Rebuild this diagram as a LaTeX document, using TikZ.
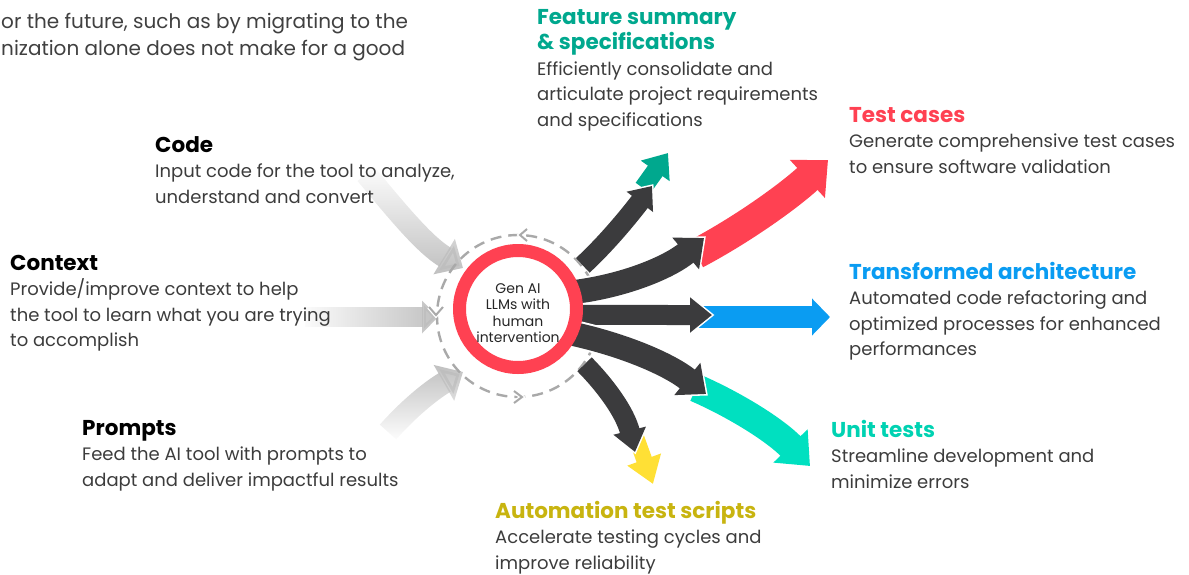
\documentclass[tikz,border=0pt]{standalone}
\usepackage{fontspec}
\setmainfont{Poppins}
\usetikzlibrary{arrows.meta,positioning,calc,fadings}
\definecolor{bodygrey}{HTML}{3C3C3C}
\definecolor{flowgrey}{HTML}{3B3B3D}
\definecolor{ingrey}{HTML}{BDBDBD}
\definecolor{dashgrey}{HTML}{A9A9A9}
\definecolor{ringred}{HTML}{FF4152}
\definecolor{featteal}{HTML}{00A88E}
\definecolor{archblue}{HTML}{0A9CF2}
\definecolor{unitcyan}{HTML}{00E0C0}
\definecolor{unittext}{HTML}{00D2B2}
\definecolor{autoyellow}{HTML}{FFE035}
\definecolor{autotext}{HTML}{C8B410}
\newcommand{\headfont}{\fontsize{21.5}{25.5}\selectfont\bfseries}
\pgfdeclarelayer{back}
\pgfsetlayers{back,main}
\tikzset{
  block/.style={anchor=north west, align=left, inner sep=0pt, text=bodygrey,
    font=\fontsize{18}{25.5}\selectfont},
  inflow/.style args={#1/#2/#3}{draw=ingrey, line width=#1pt,
    -{Triangle[width=#2pt, length=#3pt]}},
  darkflow/.style args={#1/#2/#3}{draw=flowgrey, line width=#1pt,
    -{Triangle[width=#2pt, length=#3pt]},
    preaction={draw=white, line width=#1pt+4pt, shorten >=-2.5pt,
      -{Triangle[width=#2pt+6pt, length=#3pt+4pt]}}},
  colflow/.style args={#1/#2/#3/#4}{draw=#1, line width=#2pt,
    -{Triangle[width=#3pt, length=#4pt]}},
  chevron/.style={draw=dashgrey, line width=2pt,
    preaction={draw=white, line width=4.5pt}},
}
\begin{document}
\begin{tikzpicture}[x=1pt, y=-1pt]
\useasboundingbox (0,0) rectangle (1189,574);

\node[circle, draw=ringred, line width=13pt, fill=white, minimum size=117pt] (core) at (518,309) {};
\node[align=center, font=\fontsize{14}{16.5}\selectfont, text=black!85, inner sep=0pt] (corelabel) at (518,313)
  {Gen AI\\LLMs with\\human\\intervention};

\begin{pgfonlayer}{back}
\draw[inflow=22/40/22, path fading=north] (366,174) .. controls (400,215) and (425,245) .. (463,268);
\draw[inflow=20/32/16, path fading=west] (305,317) -- (438,317);
\draw[inflow=22/40/22, path fading=south] (388,432) .. controls (412,405) and (435,388) .. (463,372);

\node[circle, draw=dashgrey, line width=2.4pt, dash pattern=on 11pt off 7pt,
  minimum size=162pt] (loop) at (518,316) {};
\draw[chevron] (527,229) -- (520,235) -- (527,241);
\draw[chevron] (429,307) -- (436,315) -- (443,307);
\draw[chevron] (514,391) -- (522,397) -- (514,403);

\coordinate (featTip) at (652,186);
\coordinate (testTip) at (704,238);
\coordinate (archTip) at (712,315);
\coordinate (unitTip) at (706,394);
\coordinate (autoTip) at (635,452);
\coordinate (featEnd) at (668,153);
\coordinate (testEnd) at (828,160);
\coordinate (archEnd) at (830,317);
\coordinate (unitEnd) at (810,466);
\coordinate (autoEnd) at (653,484);

\draw[colflow=featteal/18/34/22] (643,188) -- (featEnd);
\draw[colflow=ringred/30/50/28] (696,254) .. controls (745,228) and (790,195) .. (testEnd);
\draw[colflow=archblue/22/36/18] (699,317) -- (archEnd);
\draw[colflow=unitcyan/28/46/28] (696,388) .. controls (735,405) and (775,430) .. (unitEnd);
\draw[colflow=autoyellow/16/34/26] (636,437) -- (autoEnd);

\draw[darkflow=20/32/20] (loop.38) .. controls (610,240) and (632,212) .. (featTip);
\draw[darkflow=24/40/24] ($(core.center)!0.88!(core.17)$) .. controls (630,285) and (672,265) .. (testTip);
\draw[darkflow=20/34/22] ($(core.center)!0.88!(core.-6)$) -- (archTip);
\draw[darkflow=24/40/24] ($(core.center)!0.88!(core.-25)$) .. controls (625,345) and (670,365) .. (unitTip);
\draw[darkflow=20/32/22] (loop.-36) .. controls (605,385) and (625,412) .. (autoTip);
\end{pgfonlayer}

\node[block, text=black!75, font=\fontsize{20}{27}\selectfont] (intro) at (1,13)
  {or the future, such as by migrating to the\\nization alone does not make for a good};

\node[block] (code) at (155,136)
  {{\headfont\color{black}Code}\\Input code for the tool to analyze,\\understand and convert};
\node[block] (context) at (10,255)
  {{\headfont\color{black}Context}\\Provide/improve context to help\\the tool to learn what you are trying\\to accomplish};
\node[block] (prompts) at (82,420)
  {{\headfont\color{black}Prompts}\\Feed the AI tool with prompts to\\adapt and deliver impactful results};
\node[block] (feature) at (537,9)
  {{\headfont\color{featteal}Feature summary}\\{\headfont\color{featteal}\& specifications}\\Efficiently consolidate and\\articulate project requirements\\and specifications};
\node[block] (tests) at (849,107)
  {{\headfont\color{ringred}Test cases}\\Generate comprehensive test cases\\to ensure software validation};
\node[block] (arch) at (849,262)
  {{\headfont\color{archblue}Transformed architecture}\\Automated code refactoring and\\optimized processes for enhanced\\performances};
\node[block] (unit) at (831,420)
  {{\headfont\color{unittext}Unit tests}\\Streamline development and\\minimize errors};
\node[block] (auto) at (495,501)
  {{\headfont\color{autotext}Automation test scripts}\\Accelerate testing cycles and\\improve reliability};
\end{tikzpicture}
\end{document}
